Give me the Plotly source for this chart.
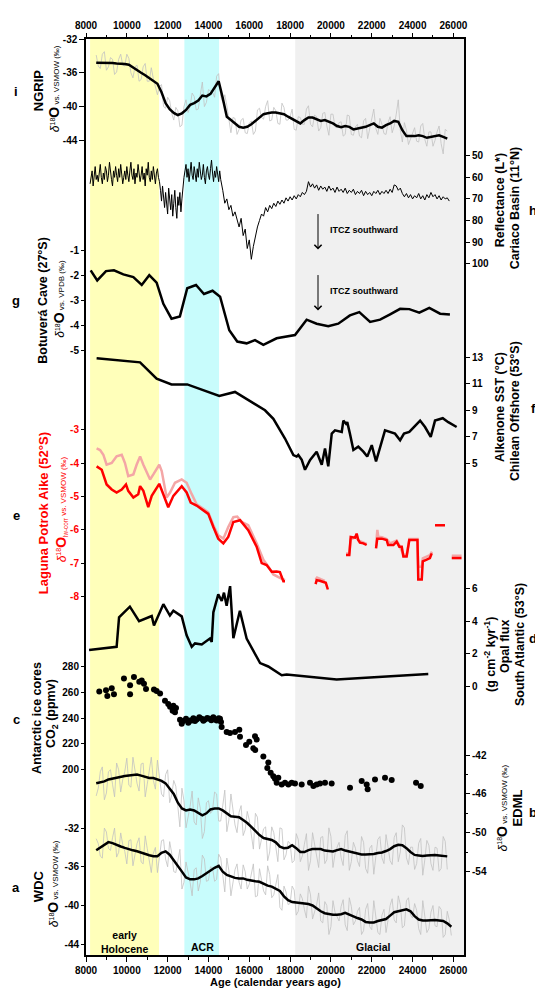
import plotly.graph_objects as go

FONT = "Liberation Sans"
OFF = 8                       # page body margin offset (px)
W, H = 543 - OFF, 993 - OFF
ML, MR, MT, MB = 86 - OFF, 79, 24 - OFF, 38
PW = W - ML - MR
PH = H - MT - MB
X_RANGE = [8000, 26520]

# ---------------- data ----------------
# NGRIP d18O (200-yr grid from 8500) + raw (two interleaved grids)
ngrip_smooth = [-34.8, -34.8, -34.8, -34.8, -34.85, -34.9, -34.9, -34.95, -35.05, -35.4,
                -35.7, -36.0, -36.3, -36.6, -36.9, -37.3, -38.3, -39.6, -40.3, -40.75,
                -41.0, -40.8, -40.4, -39.8, -39.6, -39.3, -38.7, -38.8, -38.5, -37.8,
                -37.0, -39.0, -41.2, -41.6, -42.0, -42.4, -42.5, -42.4, -42.1, -41.7,
                -41.2, -40.9, -40.8, -40.7, -40.7, -40.8, -40.9, -41.2, -41.5, -41.8,
                -42.0, -41.6, -41.3, -41.3, -41.5, -41.7, -41.6, -41.8, -42.0, -42.3,
                -42.45, -42.3, -42.4, -42.7, -42.6, -42.55, -42.4, -42.2, -42.0, -42.4,
                -42.5, -42.2, -42.0, -41.7, -41.8, -42.8, -43.5, -43.5, -43.5, -43.4,
                -43.5, -43.7, -43.6, -43.5, -43.4, -43.6, -43.8]
ngrip_raw_a = [-33.9, -35.5, -33.5, -35.3, -34.4, -35.9, -33.8, -35.2, -34.3, -36.6,
               -35.1, -36.8, -34.9, -37.0, -36.7, -38.6, -37.4, -40.2, -39.3, -41.6,
               -40.5, -42.2, -39.2, -40.0, -38.8, -40.3, -37.1, -39.5, -38.2, -38.9,
               -36.1, -39.5, -39.9, -43.1, -41.4, -42.7, -41.4, -43.2, -41.7, -42.9,
               -40.2, -41.5, -39.3, -41.6, -40.5, -42.1, -40.1, -41.6, -40.3, -42.8,
               -41.3, -42.1, -39.9, -42.4, -41.2, -42.5, -40.7, -43.4, -40.9, -42.5,
               -41.8, -43.3, -41.1, -43.4, -42.1, -43.7, -41.4, -42.6, -40.3, -43.3,
               -42.1, -43.3, -41.2, -42.3, -39.2, -44.2, -42.8, -43.8, -42.5, -44.2,
               -42.0, -44.7, -43.0, -44.0, -42.3, -45.6, -42.9]
ngrip_raw_b = [-35.2, -33.8, -35.7, -34.2, -36.2, -34.4, -35.1, -33.8, -36.0, -35.3,
               -37.0, -35.3, -37.0, -35.4, -37.8, -37.6, -40.0, -38.9, -40.8, -40.1,
               -42.4, -40.0, -40.7, -38.4, -40.4, -38.6, -40.0, -38.0, -38.3, -36.4,
               -38.8, -38.6, -41.8, -41.3, -43.3, -41.6, -43.1, -42.0, -43.3, -40.4,
               -41.3, -40.0, -41.7, -40.1, -42.0, -39.6, -41.6, -41.2, -42.7, -41.2,
               -42.1, -40.3, -42.1, -41.0, -42.9, -40.8, -42.3, -40.9, -42.4, -41.9,
               -43.5, -41.0, -43.3, -42.4, -43.5, -41.7, -43.8, -41.5, -42.6, -41.4,
               -43.2, -41.9, -43.1, -40.9, -42.8, -41.9, -44.5, -43.1, -44.1, -42.3,
               -43.9, -43.0, -44.7, -43.0, -44.4, -42.7]

# Cariaco Basin reflectance L*: 50-yr samples 8200-14600, then 100-yr samples 14700-25800
cariaco_a = [63, 60, 57, 64, 58, 55, 61, 59, 62, 56,
             54, 60, 63, 58, 61, 55, 57, 62, 59, 53,
             58, 61, 64, 57, 60, 55, 59, 62, 56, 60,
             54, 58, 63, 60, 57, 61, 55, 59, 62, 57,
             53, 59, 61, 56, 63, 58, 60, 54, 57, 62,
             59, 55, 61, 58, 64, 56, 59, 53, 60, 62,
             57, 61, 55, 59, 63, 58, 56, 60,
             62, 66, 71, 64, 69, 74, 67, 72, 77, 65,
             70, 75, 68, 78, 72, 66, 74, 79, 69, 73,
             67, 76, 70, 64, 60,
             57, 54, 60, 56, 62, 58, 53, 59, 61, 55,
             58, 62, 56, 60, 53, 57, 61, 59, 54, 60,
             63, 57, 55, 59, 61, 56, 52, 58, 62, 57,
             60, 55, 59, 62, 57, 61]
cariaco_b = [66, 72, 70, 75, 73, 78, 76, 80, 83, 79,
             87, 84, 93, 89, 98, 92, 87, 83, 80, 77,
             78, 74, 76, 73, 74.5, 72, 73.5, 71, 72.5, 70.5,
             72, 69.5, 71, 69, 70.5, 68.5, 70, 68, 69, 67,
             68, 66.5, 62, 64.5, 63, 65, 63.5, 66, 64, 65.5,
             64.5, 66.5, 64, 66, 65, 67, 64.5, 66.5, 65.5, 67,
             65, 67.5, 66, 67, 65.5, 68, 66.5, 67.5, 66, 68.5,
             66.5, 68, 67, 68.5, 66.5, 67.5, 66, 68, 66.5, 67.5,
             66, 67.5, 65.5, 67, 63.5, 64, 66, 65, 67.5, 69,
             67.5, 69.5, 68, 70, 68.5, 69.5, 67.5, 70, 68.5, 70.5,
             68, 69.5, 67, 69, 68, 70, 68.5, 70.5, 69, 70,
             69.5, 71]

# Botuvera Cave d18O
botu_year = [8230, 8550, 8980, 9370, 9830, 10320, 10730, 11100, 11460, 11790, 12190, 12600,
             12960, 13390, 13780, 14200, 14570, 15020, 15410, 15870, 16280, 16690, 17340,
             18240, 18810, 19300, 19870, 20360, 20930, 21390, 21920, 22410, 22900, 23390,
             23840, 24330, 24820, 25350, 25830]
botu_val = [-1.80, -2.20, -1.83, -1.80, -1.96, -2.07, -2.38, -1.99, -2.29, -3.13, -3.72, -3.63,
            -2.51, -2.38, -2.74, -2.61, -2.85, -4.18, -4.63, -4.70, -4.57, -4.76, -4.50,
            -4.37, -3.76, -3.92, -4.02, -3.92, -3.59, -3.46, -3.85, -3.76, -3.55, -3.33,
            -3.34, -3.48, -3.29, -3.52, -3.55]

# Alkenone SST
sst_year = [8520, 10650, 11460, 12190, 12960, 13750, 14530, 15300, 15950, 16770, 17180, 17750,
            18160, 18320, 18400, 18570, 18730, 18980, 19300, 19550, 19710, 19870, 20040, 20200,
            20530, 20610, 20740, 20800, 20930, 21100, 21340, 21590, 21780, 22000, 22210, 22650,
            23140, 23390, 23580, 23840, 24370, 24610, 24890, 25100, 25480, 25750, 26160]
sst_val = [12.95, 12.63, 11.39, 10.96, 10.96, 10.51, 10.09, 10.39, 9.79, 9.0, 8.35, 6.86,
           5.61, 5.49, 5.61, 5.24, 4.49, 5.24, 5.86, 4.87, 6.11, 4.75, 7.23, 7.48,
           7.36, 8.22, 7.98, 8.10, 7.23, 5.99, 6.24, 5.86, 5.49, 6.36, 5.12, 7.48,
           7.23, 6.73, 7.23, 7.36, 8.22, 7.73, 6.98, 8.22, 8.40, 8.10, 7.73]

# Laguna Potrok Aike d18O_lw-corr (red) and uncorrected (light)
red_year = [8520, 8770, 9010, 9260, 9500, 9750, 9960, 10070, 10320, 10560,
            10650, 10810, 11050, 11220, 11590, 11790, 12030, 12280, 12690, 12930,
            13130, 13420, 13750, 13990, 14240, 14480, 14730, 14970, 15220, 15550,
            15950, 16360, 16610, 16850, 17100, 17340, 17500, 17670, 17750, None,
            19250, 19300, 19450, 19600, 19750, 19850, None,
            20740, 20900, 20970, 21180, 21260, 21340, 21420, 21590, 21750, None,
            22210, 22270, 22490, 22730, 22800, 22900, 23060, 23220, 23350, 23470,
            23550, 23710, 23840, 24240, 24280, 24450, 24500, 24690, 24850, 24940, None,
            25100, 25590, None, 25920, 26400]
red_val = [-4.10, -4.20, -4.64, -4.79, -4.88, -4.79, -4.64, -4.83, -5.03, -4.93,
           -4.69, -4.83, -5.32, -4.98, -4.62, -4.93, -5.32, -4.98, -4.69, -4.88,
           -5.18, -5.27, -5.42, -5.52, -5.91, -6.26, -6.40, -6.21, -5.76, -5.71,
           -6.01, -6.50, -6.99, -7.05, -7.25, -7.24, -7.26, -7.53, -7.53, None,
           -7.62, -7.50, -7.52, -7.55, -7.58, -7.78, None,
           -6.75, -6.75, -6.21, -6.23, -6.11, -6.30, -6.38, -6.40, -6.45, None,
           -6.55, -6.26, -6.26, -6.30, -6.45, -6.45, -6.45, -6.35, -6.50, -6.50,
           -6.79, -6.79, -6.30, -6.30, -7.48, -7.48, -6.94, -6.89, -6.84, -6.70, None,
           -5.86, -5.86, None, -6.84, -6.84]
pink_year = [8520, 8690, 8850, 9010, 9260, 9500, 9750, 9910, 10070, 10320,
             10480, 10650, 10810, 10970, 11140, 11300, 11590, 11710, 11950, 12120,
             12360, 12690, 12930, 13180, 13420, 13750, 13990, 14240, 14480, 14730,
             14970, 15220, 15410, 15630, 15950, 16360, 16690, 16930, 17180, 17500,
             17750, None, 19250, 19320, 19500, 19700, None,
             20740, 20900, 20970, 21200, 21400, 21750, None,
             22210, 22274, 22320, 22500, 22730, 22900, 23220, 23350, 23550, 23710,
             23840, 24240, 24280, 24450, 24500, 24690, 24850, 24950, None, 25920, 26400]
pink_val = [-3.56, -3.61, -3.75, -4.05, -4.00, -3.80, -3.75, -4.00, -4.39, -4.34,
            -4.05, -3.80, -4.05, -4.29, -4.49, -4.34, -4.05, -4.24, -5.03, -4.88,
            -4.59, -4.49, -4.59, -4.93, -5.23, -5.37, -5.47, -5.86, -6.16, -6.26,
            -5.91, -5.62, -5.60, -5.76, -5.86, -6.40, -6.89, -7.09, -7.33, -7.43,
            -7.50, None, -7.48, -7.42, -7.47, -7.52, None,
            -6.70, -6.70, -6.28, -6.22, -6.33, -6.42, None,
            -6.48, -6.00, -6.20, -6.22, -6.27, -6.40, -6.32, -6.46, -6.74, -6.74,
            -6.27, -6.27, -7.10, -7.10, -6.85, -6.80, -6.75, -6.65, None, -6.77, -6.77]

# South Atlantic opal flux
opal_year = [8150, 9500, 9620, 10150, 10600, 11220, 11330, 11790, 12110, 12280, 12690, 12930,
             13180, 13340, 13670, 14070, 14160, 14240, 14480, 14650, 14760, 14890, 15060,
             15220, 15540, 15870, 16530, 16930, 17590, 17830, 20280, 24770]
opal_val = [2.22, 2.42, 4.24, 4.90, 4.00, 4.32, 3.74, 5.05, 4.35, 4.65, 4.30, 3.13,
            2.42, 2.63, 2.57, 2.93, 2.73, 4.55, 5.66, 5.25, 5.76, 4.95, 6.16,
            2.95, 4.65, 2.93, 1.42, 1.21, 0.67, 0.71, 0.41, 0.75]

# Antarctic CO2
co2_year = [8650, 8980, 9045, 9260, 9370, 9860, 10160, 10160, 10350, 10610,
            10730, 10840, 10940, 11330, 11460, 11630, 11870, 12030, 12120, 12280,
            12410, 12245, 12360, 12606, 12689, 12768, 12900, 13013, 13100, 13179,
            13260, 13341, 13420, 13553, 13669, 13750, 13831, 13940, 14042, 14140,
            14238, 14320, 14404, 14500, 14566, 14615, 14645, 14892, 15055, 15300,
            15512, 15545, 15839, 16000, 16200, 16280, 16362, 16290, 16689, 16933,
            16883, 17048, 17178, 17259, 17342, 17422, 17588, 17750, 17914, 18077,
            18240, 18567, 18975, 19139, 19300, 19465, 19710, 20036, 20935, 21507,
            21752, 21800, 22160, 22650, 22977, 24170, 24400]
co2_val = [260.7, 261.7, 257.3, 263.2, 258.6, 270.8, 265.7, 258.6, 272.1, 268.3,
           269.3, 266.8, 262.7, 262.4, 261.2, 259.2, 253.5, 251.0, 248.9, 249.7,
           247.9, 245.9, 244.7, 238.8, 235.7, 237.8, 239.5, 236.5, 238.3, 238.3,
           240.0, 237.8, 239.0, 240.8, 239.5, 238.0, 239.0, 240.2, 239.5, 238.5,
           240.8, 239.0, 238.3, 240.0, 239.5, 237.0, 233.2, 229.4, 228.6, 229.4,
           231.1, 225.6, 219.2, 221.8, 216.6, 226.0, 223.5, 215.3, 210.3, 205.7,
           201.4, 197.6, 195.0, 193.0, 189.9, 193.7, 188.6, 189.9, 188.6, 189.9,
           189.4, 188.6, 189.9, 187.4, 188.6, 189.4, 189.9, 189.4, 186.1, 191.2,
           188.6, 184.8, 192.4, 193.7, 192.0, 189.9, 187.4]

# EDML d18O (200-yr grid from 8500) + raw
edml_smooth = [-44.9, -44.8, -44.7, -44.5, -44.4, -44.3, -44.2, -44.15, -44.1, -44.05,
               -44.0, -44.1, -44.25, -44.35, -44.35, -44.5, -44.65, -44.9, -45.4, -46.0,
               -46.9, -47.5, -47.7, -47.6, -47.7, -47.95, -48.2, -48.0, -47.6, -47.5,
               -47.5, -47.7, -48.0, -48.3, -48.35, -48.4, -48.7, -49.0, -49.4, -49.85,
               -50.25, -50.55, -50.65, -50.75, -51.0, -51.45, -51.6, -51.55, -51.3, -51.6,
               -52.0, -52.0, -51.8, -51.7, -51.7, -51.7, -51.85, -51.9, -51.95, -51.8,
               -51.7, -51.85, -51.95, -52.05, -52.15, -52.25, -52.25, -52.25, -52.2, -52.1,
               -52.05, -51.9, -51.7, -51.4, -51.25, -51.3, -51.6, -52.0, -52.3, -52.35,
               -52.4, -52.35, -52.3, -52.3, -52.35, -52.4, -52.45]
edml_raw_a = [-46.2, -43.7, -46.6, -43.7, -45.0, -42.8, -45.8, -43.7, -45.1, -42.2,
              -44.9, -42.9, -46.3, -43.7, -44.6, -42.5, -46.0, -44.0, -46.9, -44.6,
              -47.6, -45.4, -49.5, -47.3, -48.9, -46.4, -50.6, -46.9, -48.0, -45.8,
              -48.8, -46.9, -49.9, -46.0, -49.2, -47.9, -50.3, -47.8, -50.0, -48.0,
              -51.7, -49.6, -52.9, -49.4, -51.3, -49.5, -52.8, -50.9, -53.1, -50.1,
              -53.0, -51.2, -53.9, -50.0, -52.1, -50.5, -53.2, -49.5, -53.6, -51.5,
              -52.6, -50.3, -53.9, -51.0, -52.9, -50.4, -53.7, -51.6, -54.3, -50.7,
              -52.6, -50.2, -52.9, -50.5, -53.0, -49.2, -52.6, -51.5, -53.8, -51.1,
              -54.4, -50.8, -53.2, -51.5, -54.0, -50.4, -53.8]
edml_raw_b = [-45.4, -43.2, -45.9, -43.5, -46.3, -43.5, -44.5, -42.3, -45.3, -43.6,
              -45.7, -42.8, -45.0, -42.2, -45.5, -44.3, -46.3, -43.5, -46.1, -45.2,
              -49.4, -46.7, -48.5, -45.7, -49.2, -47.5, -49.9, -46.7, -47.7, -46.0,
              -48.8, -45.6, -48.7, -47.6, -50.0, -47.2, -49.7, -48.7, -51.7, -48.4,
              -50.7, -49.4, -52.0, -50.0, -53.0, -49.6, -52.3, -51.1, -52.9, -50.7,
              -52.4, -50.1, -52.9, -51.1, -53.6, -50.4, -52.8, -50.4, -52.2, -51.0,
              -53.4, -49.8, -53.0, -51.6, -53.5, -51.0, -54.2, -51.3, -52.7, -50.4,
              -53.2, -51.5, -53.3, -50.0, -52.0, -49.5, -53.3, -51.5, -53.2, -50.6,
              -52.8, -51.3, -53.9, -51.6, -53.7, -50.9]

# WDC d18O (200-yr grid from 8500) + raw
wdc_smooth = [-34.3, -34.0, -33.7, -33.45, -33.55, -33.75, -33.9, -34.05, -34.2, -34.3,
              -34.4, -34.55, -34.65, -34.8, -34.9, -34.9, -34.55, -34.4, -34.75, -35.3,
              -35.9, -36.5, -37.1, -37.3, -37.3, -37.2, -36.95, -36.65, -36.4, -36.1,
              -35.9, -36.5, -36.85, -37.0, -37.15, -37.2, -37.2, -37.35, -37.45, -37.5,
              -37.55, -37.75, -37.95, -38.05, -38.25, -38.5, -39.05, -39.45, -39.65, -39.7,
              -39.7, -39.75, -39.85, -40.0, -40.3, -40.6, -40.8, -40.9, -40.95, -40.95,
              -40.9, -40.75, -40.95, -41.15, -41.3, -41.45, -41.7, -41.75, -41.75, -41.6,
              -41.5, -41.4, -41.05, -40.7, -40.6, -40.5, -40.4, -40.6, -41.1, -41.45,
              -41.55, -41.55, -41.5, -41.5, -41.55, -41.6, -41.85, -42.2]
wdc_raw_a = [-33.1, -34.9, -32.0, -34.1, -33.0, -35.0, -32.5, -34.4, -33.3, -35.9,
             -33.6, -35.5, -32.8, -35.3, -34.6, -36.6, -33.3, -35.2, -33.4, -36.5,
             -35.2, -38.3, -35.5, -37.6, -36.3, -38.5, -34.8, -37.5, -36.0, -37.5,
             -34.7, -37.1, -35.1, -39.0, -36.3, -37.6, -35.8, -38.3, -36.9, -39.1,
             -36.2, -38.5, -35.9, -39.2, -37.9, -40.2, -38.0, -39.9, -38.0, -41.0,
             -38.8, -40.4, -38.0, -41.4, -39.9, -41.6, -39.6, -43.0, -39.5, -41.2,
             -40.1, -42.0, -39.2, -42.0, -40.6, -43.0, -40.4, -42.2, -39.5, -42.8,
             -41.0, -42.8, -40.0, -41.5, -39.0, -42.3, -39.5, -41.0, -39.8, -42.4,
             -39.5, -42.8, -40.7, -42.1, -40.1, -43.3, -40.6, -43.1]
wdc_raw_b = [-33.6, -35.1, -32.4, -34.3, -32.0, -34.5, -33.7, -35.7, -33.2, -34.7,
             -33.0, -35.7, -34.1, -36.6, -34.0, -35.0, -33.2, -36.0, -34.6, -36.6,
             -34.2, -37.6, -36.4, -39.0, -36.1, -37.6, -35.2, -37.4, -36.1, -37.3,
             -35.1, -38.6, -36.4, -37.7, -35.7, -38.3, -36.5, -37.8, -35.7, -39.0,
             -37.4, -38.9, -36.8, -38.9, -36.8, -40.5, -38.6, -39.8, -38.4, -40.6,
             -39.3, -41.3, -38.9, -40.6, -38.7, -41.8, -40.0, -42.2, -40.7, -41.6,
             -39.4, -42.6, -40.1, -41.6, -40.2, -42.6, -39.8, -42.5, -41.2, -43.0,
             -40.4, -41.5, -39.3, -41.8, -39.9, -42.1, -39.2, -41.3, -40.5, -43.0,
             -41.1, -42.4, -40.0, -42.2, -40.4, -43.0, -41.5]

x_ticks = [8000, 10000, 12000, 14000, 16000, 18000, 20000, 22000, 24000, 26000]
x_minor = [9000, 11000, 13000, 15000, 17000, 19000, 21000, 23000, 25000]
periods = [(8200, 11580, "#FFFFBA"), (12820, 14520, "#C8FCFC"), (18250, 26520, "#F0F0F0")]


def grid(start, step, n):
    return [start + step * i for i in range(n)]


def merged(start_a, vals_a, start_b, vals_b, step=200):
    pts = sorted(list(zip(grid(start_a, step, len(vals_a)), vals_a)) +
                 list(zip(grid(start_b, step, len(vals_b)), vals_b)))
    return [p[0] for p in pts], [p[1] for p in pts]


# ---------------- helpers (positions given in reference-page pixels) ----------------
def xp(px):
    return (px - OFF - ML) / PW


def yp(py):
    return (MT + PH - (py - OFF)) / PH


def yrange(v1, p1, v2, p2):
    p1 -= OFF
    p2 -= OFF
    s = (p1 - p2) / (v2 - v1)
    return [v1 - (MT + PH - p1) / s, v1 + (p1 - MT) / s]


def fmt(v):
    return str(int(v)) if float(v).is_integer() else str(v)


def tfont(color="black", size=10):
    return dict(family=FONT, size=size, color=color, weight="bold")


def yaxis_def(rng, vals, side, labelcolor="black", minor_vals=None, base=False):
    d = dict(range=rng, tickmode="array", tickvals=vals, ticktext=[fmt(v) for v in vals],
             ticks="outside", ticklen=5, tickwidth=1, tickcolor="black",
             tickfont=tfont(labelcolor), showgrid=False, zeroline=False, side=side,
             fixedrange=True)
    if base:
        d.update(anchor="x", showline=True, mirror=True, linecolor="black", linewidth=1.5)
    else:
        d.update(anchor="free", overlaying="y", position=0 if side == "left" else 1,
                 showline=False)
    if minor_vals:
        d["minor"] = dict(tickvals=minor_vals, ticks="outside", ticklen=3,
                          tickcolor="black", showgrid=False)
    return d


fig = go.Figure()
GRAY = "#C2C2C2"


def line(x, y, ax, color="black", width=2.5):
    fig.add_trace(go.Scatter(x=x, y=y, yaxis=ax, mode="lines", connectgaps=False,
                             line=dict(color=color, width=width), hoverinfo="skip",
                             showlegend=False))


# NGRIP
nx, ny = merged(8500, ngrip_raw_a, 8600, ngrip_raw_b)
line(nx, ny, "y", GRAY, 0.8)
line(grid(8500, 200, len(ngrip_smooth)), ngrip_smooth, "y", "black", 2.5)
# Cariaco
line(grid(8200, 50, len(cariaco_a)) + grid(14700, 100, len(cariaco_b)),
     cariaco_a + cariaco_b, "y2", "black", 1.0)
# Botuvera
line(botu_year, botu_val, "y3", "black", 2.5)
# SST
line(sst_year, sst_val, "y4", "black", 2.5)
# Potrok Aike
line(pink_year, pink_val, "y5", "#F4A6A6", 2.5)
line(red_year, red_val, "y5", "#FF0000", 2.5)
# Opal
line(opal_year, opal_val, "y6", "black", 2.5)
# CO2
fig.add_trace(go.Scatter(x=co2_year, y=co2_val, yaxis="y7", mode="markers",
                         marker=dict(color="black", size=6), hoverinfo="skip",
                         showlegend=False))
# EDML
ex, ey = merged(8500, edml_raw_a, 8600, edml_raw_b)
line(ex, ey, "y8", GRAY, 0.8)
line(grid(8500, 200, len(edml_smooth)), edml_smooth, "y8", "black", 2.5)
# WDC
wx, wy = merged(8500, wdc_raw_a, 8600, wdc_raw_b)
line(wx, wy, "y9", GRAY, 0.8)
line(grid(8500, 200, len(wdc_smooth)), wdc_smooth, "y9", "black", 2.5)
# dummy for top axis
fig.add_trace(go.Scatter(x=[None], y=[None], xaxis="x2", yaxis="y", showlegend=False,
                         hoverinfo="skip"))

shapes = [dict(type="rect", xref="x", yref="paper", x0=a, x1=b, y0=0, y1=1,
               fillcolor=c, line=dict(width=0), layer="below") for a, b, c in periods]


def vtext(text, px, py, size, color="black"):
    return dict(x=xp(px), y=yp(py), xref="paper", yref="paper", text=text, textangle=-90,
                showarrow=False, xanchor="center", yanchor="middle",
                font=dict(family=FONT, size=size, color=color))


def htext(text, px, py, size, color="black", xanchor="center"):
    return dict(x=xp(px), y=yp(py), xref="paper", yref="paper", text=text,
                showarrow=False, xanchor=xanchor, yanchor="middle",
                font=dict(family=FONT, size=size, color=color))


def dsub(ref, sub=""):
    return ('<span style="font-size:12px"><i>δ</i></span>'
            '<span style="font-size:10px"><sup>18</sup></span><b>O</b>' + sub +
            '<span style="font-size:8px"> vs. ' + ref + ' (‰)</span>')


RL = 533  # x of the right-hand panel letters
ann = [
    vtext("<b>NGRIP</b>", 38, 76, 13), vtext(dsub("VSMOW"), 54, 75, 14),
    htext("<b>i</b>", 16, 77, 13),
    vtext("<b>Reflectance (L*)</b>", 500, 188, 12.5),
    vtext("<b>Cariaco Basin (11°N)</b>", 515, 196, 12.5), htext("<b>h</b>", RL, 198, 13),
    vtext("<b>Botuverá Cave (27°S)</b>", 43, 290, 12.5), vtext(dsub("VPDB"), 59, 288, 14),
    htext("<b>g</b>", 16, 290, 13),
    vtext("<b>Alkenone SST (°C)</b>", 500, 398, 12.5),
    vtext("<b>Chilean Offshore (53°S)</b>", 515, 402, 12.5), htext("<b>f</b>", RL, 400, 13),
    vtext("<b>Laguna Potrok Aike (52°S)</b>", 43, 506, 13, "#FF0000"),
    vtext(dsub("VSMOW", '<span style="font-size:9px"><sub>lw-corr</sub></span>'), 61, 502, 14,
          "#FF0000"),
    htext("<b>e</b>", 16, 508, 13),
    vtext("<b>(g cm<sup>-2</sup> kyr<sup>-1</sup>)</b>", 490, 650, 12.5),
    vtext("<b>Opal flux</b>", 505, 641, 12.5),
    vtext("<b>South Atlantic (53°S)</b>", 520, 640, 12.5), htext("<b>d</b>", RL, 633, 13),
    vtext("<b>Antarctic ice cores</b>", 37, 714, 12.5),
    vtext("<b>CO<sub>2</sub> (ppmv)</b>", 52, 710, 12.5), htext("<b>c</b>", 16, 716, 13),
    vtext(dsub("VSMOW"), 502, 806, 14), vtext("<b>EDML</b>", 517, 806, 13),
    htext("<b>b</b>", RL, 810, 13),
    vtext("<b>WDC</b>", 38, 885, 13), vtext(dsub("VSMOW"), 53, 883, 14),
    htext("<b>a</b>", 16, 886, 13),
    htext("<b>early<br>Holocene</b>", 124, 942, 10.5),
    htext("<b>ACR</b>", 202, 947, 10.5),
    htext("<b>Glacial</b>", 373, 947, 10.5),
    htext("<b>Age (calendar years ago)</b>", 275, 982, 11),
    htext("<b>ITCZ southward</b>", 328, 218, 9, xanchor="left"),
    htext("<b>ITCZ southward</b>", 328, 280, 9, xanchor="left"),
]
for tip in (238, 300):
    ann.append(dict(x=xp(318), y=yp(tip), xref="paper", yref="paper", text="",
                    showarrow=True, ax=0, ay=-37, arrowhead=4, arrowsize=1.4,
                    arrowwidth=1, arrowcolor="black"))

xcommon = dict(range=X_RANGE, tickmode="array", tickvals=x_ticks,
               ticktext=[str(v) for v in x_ticks], ticks="outside", ticklen=5,
               tickcolor="black", tickwidth=1, tickfont=tfont(),
               minor=dict(tickvals=x_minor, ticks="outside", ticklen=3, tickcolor="black"),
               showgrid=False, zeroline=False, fixedrange=True)

layout = dict(
    width=W, height=H, margin=dict(l=ML, r=MR, t=MT, b=MB),
    paper_bgcolor="white", plot_bgcolor="white", showlegend=False,
    font=dict(family=FONT, color="black"),
    xaxis=dict(**xcommon, anchor="y", side="bottom", showline=True, mirror=True,
               linecolor="black", linewidth=1.5),
    xaxis2=dict(**xcommon, anchor="y", overlaying="x", side="top", showline=False),
    yaxis=yaxis_def(yrange(-32, 24, -44, 127), [-32, -36, -40, -44], "left", base=True),
    yaxis2=yaxis_def(yrange(50, 142.7, 100, 252.3), [50, 60, 70, 80, 90, 100], "right"),
    yaxis3=yaxis_def(yrange(-1, 238.7, -5, 341), [-1, -2, -3, -4, -5], "left"),
    yaxis4=yaxis_def(yrange(13, 347.7, 5, 455), [13, 11, 9, 7, 5], "right"),
    yaxis5=yaxis_def(yrange(-3, 421, -8, 591), [-3, -4, -5, -6, -7, -8], "left",
                     labelcolor="#FF0000"),
    yaxis6=yaxis_def(yrange(6, 582.8, 0, 681.7), [6, 4, 2, 0], "right"),
    yaxis7=yaxis_def(yrange(280, 662, 200, 766.7), [280, 260, 240, 220, 200], "left"),
    yaxis8=yaxis_def(yrange(-42, 752, -54, 870), [-42, -46, -50, -54], "right",
                     minor_vals=[-44, -48, -52]),
    yaxis9=yaxis_def(yrange(-32, 826, -44, 944), [-32, -36, -40, -44], "left"),
    shapes=shapes, annotations=ann,
)
fig.update_layout(**layout)
fig.write_html("out.html")
